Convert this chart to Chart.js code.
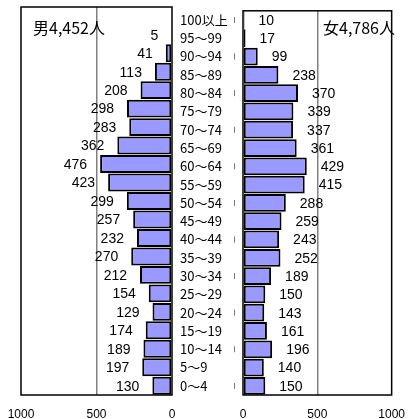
<!DOCTYPE html>
<html>
<head>
<meta charset="utf-8">
<script src="https://cdn.jsdelivr.net/npm/chart.js@4"></script>
<style>
  body { margin: 0; background: #fff; }
  #wrap { position: relative; width: 417px; height: 419px; overflow: hidden; }
  canvas { position: absolute; top: 0; }
  #maleChart { left: 0; }
  #femaleChart { left: 175px; }
</style>
</head>
<body>
<div id="wrap">
  <canvas id="maleChart" width="185" height="419"></canvas>
  <canvas id="femaleChart" width="242" height="419"></canvas>
</div>
<script>
// age groups, top to bottom
var ages = ['100以上', '95～99', '90～94', '85～89', '80～84', '75～79', '70～74',
    '65～69', '60～64', '55～59', '50～54', '45～49', '40～44', '35～39',
    '30～34', '25～29', '20～24', '15～19', '10～14', '5～9', '0～4'];
var male = [null, 5, 41, 113, 208, 298, 283, 362, 476, 423, 299, 257, 232, 270,
    212, 154, 129, 174, 189, 197, 130];
var female = [10, 17, 99, 238, 370, 339, 337, 361, 429, 415, 288, 259, 243, 252,
    189, 150, 143, 161, 196, 140, 150];
var xTicks = [0, 500, 1000];
var maleTitle = '男4,452人';
var femaleTitle = '女4,786人';

var barColor = '#9999ff';
var numFont = '"Liberation Sans", "Noto Sans CJK JP", sans-serif';
var jpFont = '"Noto Sans CJK JP", sans-serif';

// frame, value labels, title
function panelPlugin(title, titleX, side) {
    return {
        id: 'panel',
        afterDatasetsDraw: function (chart) {
            var c = chart.ctx, a = chart.chartArea;
            c.save();
            c.strokeStyle = '#000';
            c.lineWidth = 1.5;
            c.strokeRect(a.left, a.top, a.right - a.left, a.bottom - a.top);

            c.fillStyle = '#000';
            c.font = '14px ' + numFont;
            c.textBaseline = 'middle';
            var meta = chart.getDatasetMeta(0);
            var data = chart.data.datasets[0].data;
            meta.data.forEach(function (bar, i) {
                if (data[i] == null) return;
                if (side === 'left') {
                    c.textAlign = 'right';
                    c.fillText(data[i], bar.x - 13, bar.y + 1);
                } else {
                    c.textAlign = 'left';
                    c.fillText(data[i], bar.x + 14, bar.y + 1);
                }
            });

            c.font = '16px ' + jpFont;
            c.textAlign = 'left';
            c.fillText(title, titleX, 28);

            if (side === 'right') {
                // little marks beside every other age label
                c.strokeStyle = '#777';
                c.lineWidth = 1;
                var ys = chart.scales.y;
                ages.forEach(function (lab, i) {
                    if (i % 2 !== 0) return;
                    var y = ys.getPixelForValue(i);
                    var x = Math.round(a.left - 9) + 0.5;
                    c.beginPath();
                    c.moveTo(x, y - 3);
                    c.lineTo(x, y + 3);
                    c.stroke();
                });
            }
            c.restore();
        }
    };
}

function xScale(reverse) {
    return {
        type: 'linear',
        min: 0,
        max: 1000,
        reverse: reverse,
        afterBuildTicks: function (s) {
            s.ticks = xTicks.map(function (v) { return { value: v }; });
        },
        afterFit: function (s) { s.height = 24; },
        grid: {
            drawTicks: false,
            lineWidth: 1.5,
            color: function (ctx) {
                return ctx.tick && ctx.tick.value === 500 ? '#808080' : 'rgba(0,0,0,0)';
            }
        },
        border: { display: false },
        ticks: {
            padding: 12,
            maxRotation: 0,
            color: '#000',
            font: { family: numFont, size: 12 },
            callback: function (v) { return String(v); }
        }
    };
}

Chart.defaults.animation = false;

var ctx1 = document.getElementById('maleChart').getContext('2d');
var maleChart = new Chart(ctx1, {
    type: 'bar',
    data: {
        labels: ages,
        datasets: [{
            data: male,
            backgroundColor: barColor,
            borderColor: '#000',
            borderWidth: 2,
            borderSkipped: false,
            barPercentage: 0.97,
            categoryPercentage: 1
        }]
    },
    options: {
        indexAxis: 'y',
        responsive: false,
        layout: { padding: { left: 21, right: 13, top: 7, bottom: 0 } },
        plugins: { legend: { display: false }, tooltip: { enabled: false } },
        scales: {
            x: xScale(true),
            y: { display: false, position: 'right' }
        }
    },
    plugins: [panelPlugin(maleTitle, 33, 'left')]
});

var ctx2 = document.getElementById('femaleChart').getContext('2d');
var femaleChart = new Chart(ctx2, {
    type: 'bar',
    data: {
        labels: ages,
        datasets: [{
            data: female,
            backgroundColor: barColor,
            borderColor: '#000',
            borderWidth: 2,
            borderSkipped: false,
            barPercentage: 0.97,
            categoryPercentage: 1
        }]
    },
    options: {
        indexAxis: 'y',
        responsive: false,
        layout: { padding: { left: 5, right: 15, top: 7, bottom: 0 } },
        plugins: { legend: { display: false }, tooltip: { enabled: false } },
        scales: {
            x: xScale(false),
            y: {
                afterFit: function (s) { s.width = 63; },
                grid: { display: false },
                border: { display: false },
                ticks: {
                    crossAlign: 'far',
                    autoSkip: false,
                    color: '#000',
                    font: { family: jpFont, size: 13 }
                }
            }
        }
    },
    plugins: [panelPlugin(femaleTitle, 148, 'right')]
});
</script>
</body>
</html>
